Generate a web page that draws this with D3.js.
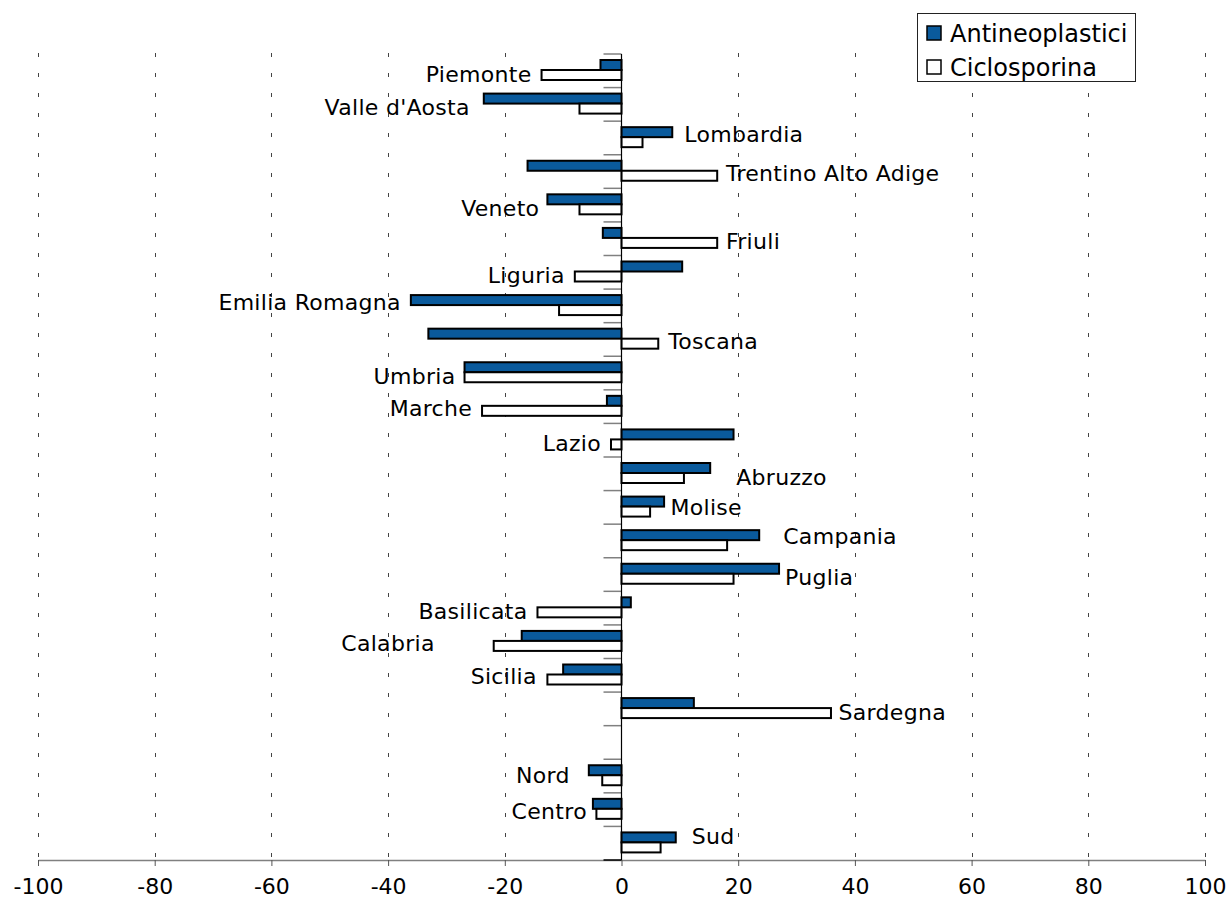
<!DOCTYPE html>
<html>
<head>
<meta charset="utf-8">
<script src="https://cdn.jsdelivr.net/npm/d3@7"></script>
<style>
  body { margin: 0; background: #fff; }
  svg text { font-family: "DejaVu Sans", Verdana, sans-serif; fill: #000; }
</style>
</head>
<body>
<div id="chart"></div>
<script>
// regions (blank slot separates the macro-areas)
var categories = ["Piemonte", "Valle d'Aosta", "Lombardia", "Trentino Alto Adige", "Veneto", "Friuli",
    "Liguria", "Emilia Romagna", "Toscana", "Umbria", "Marche", "Lazio", "Abruzzo", "Molise",
    "Campania", "Puglia", "Basilicata", "Calabria", "Sicilia", "Sardegna", "", "Nord", "Centro", "Sud"];
var antineoplastici = [-3.6, -23.6, 8.7, -16.1, -12.7, -3.2, 10.4, -36.1, -33.1, -26.9, -2.5, 19.2,
    15.2, 7.3, 23.6, 27.0, 1.6, -17.1, -10.0, 12.4, null, -5.6, -4.9, 9.3];
var ciclosporina = [-13.7, -7.2, 3.6, 16.4, -7.2, 16.4, -8.0, -10.7, 6.3, -26.9, -23.9, -1.8,
    10.7, 4.9, 18.1, 19.2, -14.4, -21.9, -12.7, 35.9, null, -3.3, -4.3, 6.7];
var seriesNames = ["Antineoplastici", "Ciclosporina"];
var xTicks = [-100, -80, -60, -40, -20, 0, 20, 40, 60, 80, 100];

// hand placed labels in the original: extra push outward / down, in px
var labelNudge = [[0, 1], [4, 0.6], [2, -6.3], [-1.3, -0.8], [-2, 0.7], [-1.3, 0.6], [0, 1], [0, -6],
    [0, -0.6], [-1, 0.8], [0, -0.8], [0, 0.6], [16, 1], [-3.6, -2.5], [14, -7], [-4, 0.3], [0, 0.7],
    [49, -0.9], [0.6, -1], [-2.4, 1], [0, 0], [9, -2.7], [-4, -0.8], [6, -9.8]];

var width = 1228, height = 900;
var plotTop = 54, plotBottom = 860, plotLeft = 38, plotRight = 1205;
var colors = ["#0a5a9c", "#ffffff"];

var svg = d3.select("#chart").append("svg")
    .attr("width", width)
    .attr("height", height);

var x = d3.scaleLinear().domain([-100, 100]).range([plotLeft, plotRight]);
var y0 = d3.scaleBand().domain(d3.range(categories.length)).range([plotTop, plotBottom]);
var y1 = d3.scaleBand().domain(seriesNames).range([6, 26]);

// dotted grid
svg.append("g").selectAll("line")
    .data(xTicks.filter(function(d) { return d != 0; }))
    .enter().append("line")
    .attr("x1", function(d) { return Math.round(x(d)) + 0.5; })
    .attr("x2", function(d) { return Math.round(x(d)) + 0.5; })
    .attr("y1", plotTop - 1)
    .attr("y2", plotBottom)
    .attr("stroke", "#444")
    .attr("stroke-width", 1)
    .attr("stroke-dasharray", "4,16");

// x axis
var xAxis = d3.axisBottom(x)
    .tickValues(xTicks)
    .tickSize(6)
    .tickSizeOuter(0)
    .tickPadding(12)
    .tickFormat(function(d) { return String(d); });

var gx = svg.append("g")
    .attr("transform", "translate(0," + plotBottom + ")")
    .call(xAxis);
gx.select(".domain").attr("stroke", "#808080").attr("stroke-width", 1.5);
gx.selectAll(".tick line").attr("stroke", "#555");
gx.selectAll(".tick text")
    .style("font-family", "DejaVu Sans, Verdana, sans-serif")
    .style("font-size", "22px")
    .attr("fill", "#000");

// category ticks on the zero line
svg.append("g").selectAll("line")
    .data(d3.range(categories.length + 1))
    .enter().append("line")
    .attr("x1", x(0) - 18)
    .attr("x2", x(0))
    .attr("y1", function(i) { return plotTop + i * y0.step(); })
    .attr("y2", function(i) { return plotTop + i * y0.step(); })
    .attr("stroke", function(i) { return i == categories.length ? "#000" : "#808080"; })
    .attr("stroke-width", 1.5);

// bars
var rows = categories.map(function(c, i) {
    return { i: i, name: c, values: [antineoplastici[i], ciclosporina[i]] };
});

var groups = svg.append("g").selectAll("g")
    .data(rows.filter(function(r) { return r.values[0] != null; }))
    .enter().append("g")
    .attr("transform", function(r) { return "translate(0," + y0(r.i) + ")"; });

groups.selectAll("rect")
    .data(function(r) {
        return r.values.map(function(v, k) { return { key: seriesNames[k], k: k, value: v }; });
    })
    .enter().append("rect")
    .attr("x", function(d) { return x(Math.min(0, d.value)); })
    .attr("width", function(d) { return Math.abs(x(d.value) - x(0)); })
    .attr("y", function(d) { return y1(d.key); })
    .attr("height", y1.bandwidth())
    .attr("fill", function(d) { return colors[d.k]; })
    .attr("stroke", "#000")
    .attr("stroke-width", 2);

// labels beside the bars, on the side of the Ciclosporina bar
groups.append("text")
    .style("font-size", "22px")
    .style("letter-spacing", "0.3px")
    .attr("text-anchor", function(r) { return r.values[1] < 0 ? "end" : "start"; })
    .attr("x", function(r) {
        var n = labelNudge[r.i];
        if (r.values[1] < 0) return x(d3.min(r.values.concat([0]))) - 10 - n[0];
        return x(d3.max(r.values.concat([0]))) + 10 + n[0];
    })
    .attr("y", function(r) { return 19 + labelNudge[r.i][1]; })
    .attr("dy", "0.36em")
    .text(function(r) { return r.name; });

// zero line
svg.append("line")
    .attr("x1", x(0)).attr("x2", x(0))
    .attr("y1", plotTop).attr("y2", plotBottom)
    .attr("stroke", "#000")
    .attr("stroke-width", 1.2);

// legend
var legend = svg.append("g").attr("transform", "translate(917,13)");
legend.append("rect")
    .attr("x", 0.5).attr("y", 0.5)
    .attr("width", 218).attr("height", 68)
    .attr("fill", "#fff")
    .attr("stroke", "#222")
    .attr("stroke-width", 1);

var items = legend.selectAll(".item")
    .data(seriesNames)
    .enter().append("g")
    .attr("class", "item")
    .attr("transform", function(d, k) { return "translate(10," + (13 + k * 34) + ")"; });
items.append("rect")
    .attr("width", 14).attr("height", 14)
    .attr("fill", function(d, k) { return colors[k]; })
    .attr("stroke", "#000")
    .attr("stroke-width", 1.5);
items.append("text")
    .attr("x", 23)
    .attr("y", 16)
    .style("font-size", "24px")
    .text(function(d) { return d; });
</script>
</body>
</html>
